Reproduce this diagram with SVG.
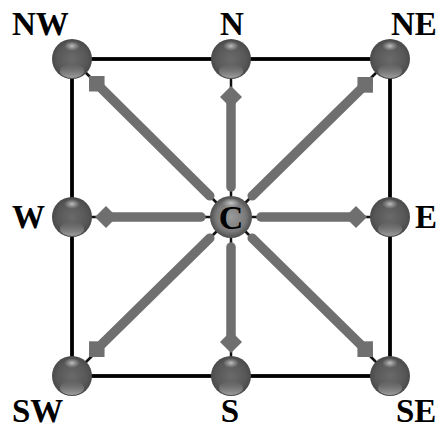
<svg xmlns="http://www.w3.org/2000/svg" width="440" height="431" viewBox="0 0 440 431">
  <style>
    .lbl { font-family: "Liberation Serif", "Times New Roman", serif; font-weight: bold; font-size: 33px; fill: #000; }
    .ball { fill: url(#ballGrad); }
    .hl { fill: url(#hlGrad); }
    .rim { fill: url(#rimGrad); }
    .edge { stroke: #000; stroke-width: 3.8; fill: none; }
    .thin { stroke: #111; stroke-width: 2.5; }
    .arrow { stroke: #6f6f6f; stroke-width: 9.5; stroke-linecap: round; marker-end: url(#diamond); }
  </style>
  <defs>
    <radialGradient id="ballGrad" cx="50%" cy="50%" r="50%">
      <stop offset="0%" stop-color="#6a6a6a"/>
      <stop offset="75%" stop-color="#575757"/>
      <stop offset="100%" stop-color="#4a4a4a"/>
    </radialGradient>
    <radialGradient id="centerGrad" cx="50%" cy="50%" r="50%">
      <stop offset="0%" stop-color="#9a9a9a"/>
      <stop offset="70%" stop-color="#7a7a7a"/>
      <stop offset="100%" stop-color="#4e4e4e"/>
    </radialGradient>
    <radialGradient id="hlGrad" cx="50%" cy="50%" r="50%">
      <stop offset="0%" stop-color="#d8d8d8" stop-opacity="0.8"/>
      <stop offset="100%" stop-color="#bdbdbd" stop-opacity="0"/>
    </radialGradient>
    <linearGradient id="rimGrad" x1="0" y1="0" x2="0" y2="1">
      <stop offset="0%" stop-color="#8a8a8a" stop-opacity="0"/>
      <stop offset="100%" stop-color="#a8a8a8" stop-opacity="0.9"/>
    </linearGradient>
    <marker id="diamond" markerUnits="userSpaceOnUse" markerWidth="26" markerHeight="26" viewBox="-13 -13 26 26" refX="0" refY="0" orient="auto">
      <path d="M11,0 L0,-11 L-11,0 L0,11 Z" fill="#6f6f6f"/>
    </marker>
  </defs>

  <rect x="0" y="0" width="440" height="431" fill="#ffffff"/>

  <g id="connectors">
    <rect class="edge" x="72" y="59" width="318" height="317"/>
    <line class="thin" x1="231" y1="217" x2="72" y2="59"/>
    <line class="thin" x1="231" y1="217" x2="231" y2="59"/>
    <line class="thin" x1="231" y1="217" x2="390" y2="59"/>
    <line class="thin" x1="231" y1="217" x2="72" y2="217"/>
    <line class="thin" x1="231" y1="217" x2="390" y2="217"/>
    <line class="thin" x1="231" y1="217" x2="72" y2="376"/>
    <line class="thin" x1="231" y1="217" x2="231" y2="376"/>
    <line class="thin" x1="231" y1="217" x2="390" y2="376"/>
    <line class="arrow" x1="209.8" y1="195.8" x2="96.8" y2="83.8"/>
    <line class="arrow" x1="231" y1="187" x2="231" y2="97"/>
    <line class="arrow" x1="252.2" y1="195.8" x2="365.2" y2="84.8"/>
    <line class="arrow" x1="201" y1="217" x2="106" y2="217"/>
    <line class="arrow" x1="261" y1="217" x2="356" y2="217"/>
    <line class="arrow" x1="209.8" y1="238.2" x2="96.8" y2="349.2"/>
    <line class="arrow" x1="231" y1="247" x2="231" y2="342"/>
    <line class="arrow" x1="252.2" y1="238.2" x2="365.2" y2="349.2"/>
  </g>

  <g id="NW">
    <circle class="ball" cx="72" cy="59" r="20"/>
    <ellipse class="rim" cx="72" cy="71" rx="12" ry="7"/>
    <ellipse class="hl" cx="72" cy="46" rx="8" ry="5"/>
    <text class="lbl" x="12" y="35">NW</text>
  </g>
  <g id="N">
    <circle class="ball" cx="231" cy="59" r="20"/>
    <ellipse class="rim" cx="231" cy="71" rx="12" ry="7"/>
    <ellipse class="hl" cx="231" cy="46" rx="8" ry="5"/>
    <text class="lbl" x="232" y="35" text-anchor="middle">N</text>
  </g>
  <g id="NE">
    <circle class="ball" cx="390" cy="59" r="20"/>
    <ellipse class="rim" cx="390" cy="71" rx="12" ry="7"/>
    <ellipse class="hl" cx="390" cy="46" rx="8" ry="5"/>
    <text class="lbl" x="391" y="35">NE</text>
  </g>
  <g id="W">
    <circle class="ball" cx="72" cy="217" r="20"/>
    <ellipse class="rim" cx="72" cy="229" rx="12" ry="7"/>
    <ellipse class="hl" cx="72" cy="204" rx="8" ry="5"/>
    <text class="lbl" x="12" y="228">W</text>
  </g>
  <g id="C">
    <circle cx="231" cy="217" r="21" fill="url(#centerGrad)"/>
    <ellipse class="hl" cx="231" cy="203" rx="9" ry="5"/>
    <text class="lbl" x="231" y="229" text-anchor="middle" style="font-size:34px">C</text>
  </g>
  <g id="E">
    <circle class="ball" cx="390" cy="217" r="20"/>
    <ellipse class="rim" cx="390" cy="229" rx="12" ry="7"/>
    <ellipse class="hl" cx="390" cy="204" rx="8" ry="5"/>
    <text class="lbl" x="415" y="228">E</text>
  </g>
  <g id="SW">
    <circle class="ball" cx="72" cy="376" r="20"/>
    <ellipse class="rim" cx="72" cy="388" rx="12" ry="7"/>
    <ellipse class="hl" cx="72" cy="363" rx="8" ry="5"/>
    <text class="lbl" x="12" y="422">SW</text>
  </g>
  <g id="S">
    <circle class="ball" cx="231" cy="376" r="20"/>
    <ellipse class="rim" cx="231" cy="388" rx="12" ry="7"/>
    <ellipse class="hl" cx="231" cy="363" rx="8" ry="5"/>
    <text class="lbl" x="230" y="422" text-anchor="middle">S</text>
  </g>
  <g id="SE">
    <circle class="ball" cx="390" cy="376" r="20"/>
    <ellipse class="rim" cx="390" cy="388" rx="12" ry="7"/>
    <ellipse class="hl" cx="390" cy="363" rx="8" ry="5"/>
    <text class="lbl" x="396" y="422">SE</text>
  </g>
</svg>
